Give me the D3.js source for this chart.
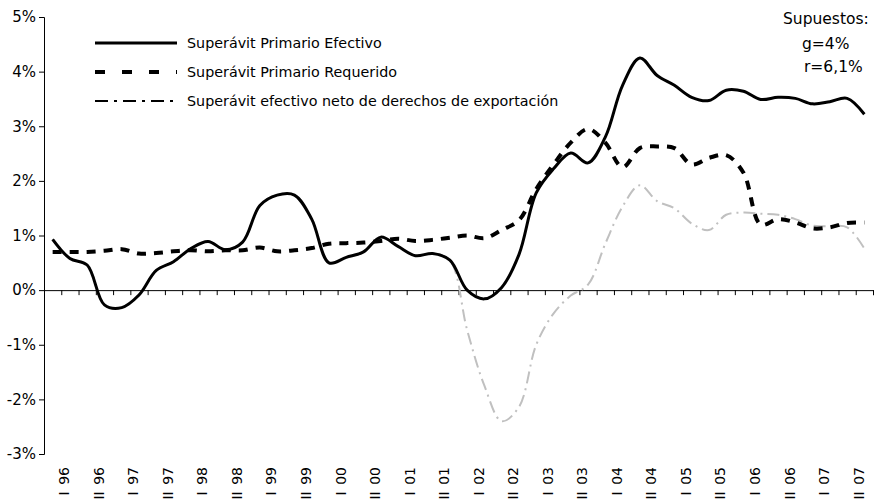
<!DOCTYPE html>
<html><head><meta charset="utf-8">
<script src="https://cdn.jsdelivr.net/npm/d3@7"></script>
<style>body{margin:0;background:#fff}svg{display:block}text{font-family:"DejaVu Sans",sans-serif;fill:#000}</style>
</head><body><svg id="c" width="878" height="503"></svg>
<script>
// Quarterly observations 1996 .. 2007 (48 points), labelled every second point
const years = ["96","97","98","99","00","01","02","03","04","05","06","07"];
const periodLabels = years.flatMap(y => ["I " + y, "II " + y]);
const efectivo = [0.93,0.58,0.46,-0.27,-0.32,-0.09,0.36,0.52,0.76,0.89,0.74,0.88,
  1.55,1.74,1.74,1.3,0.5,0.6,0.7,0.97,0.8,0.63,0.67,0.55,
  0.0,-0.16,0.05,0.65,1.78,2.22,2.51,2.33,2.8,3.75,4.25,3.93,
  3.75,3.53,3.47,3.66,3.64,3.49,3.53,3.51,3.41,3.45,3.51,3.22];
const requerido = [0.7,0.7,0.7,0.72,0.75,0.67,0.68,0.71,0.73,0.71,0.73,0.73,
  0.78,0.71,0.73,0.77,0.85,0.86,0.87,0.9,0.94,0.9,0.92,0.96,
  1.0,0.95,1.1,1.28,1.85,2.3,2.7,2.95,2.7,2.25,2.6,2.63,
  2.6,2.3,2.42,2.47,2.15,1.2,1.3,1.24,1.13,1.15,1.23,1.24];
const netoDerechos = [0.93,0.58,0.46,-0.27,-0.32,-0.09,0.36,0.52,0.76,0.89,0.74,0.88,
  1.55,1.74,1.74,1.3,0.5,0.6,0.7,0.97,0.8,0.63,0.67,0.55,
  -0.73,-1.75,-2.4,-2.14,-1.0,-0.43,-0.1,0.1,0.85,1.53,1.92,1.63,
  1.5,1.22,1.1,1.38,1.42,1.4,1.38,1.3,1.18,1.17,1.15,0.76];
const yTicks = [-3,-2,-1,0,1,2,3,4,5];
const legendNames = ["Superávit Primario Efectivo","Superávit Primario Requerido","Superávit efectivo neto de derechos de exportación"];
const notes = ["Supuestos:","g=4%","r=6,1%"];

const svg = d3.select("#c");
const xb = d3.scaleLinear().domain([0, 48]).range([44, 873]);
const y = d3.scaleLinear().domain([-3, 5]).range([454, 17]);
const xc = i => xb(i + 0.5);

// y axis
const ya = svg.append("g").attr("transform","translate(44,0)")
  .call(d3.axisLeft(y).tickValues(yTicks).tickFormat(d => d + "%").tickSizeOuter(0).tickSize(5));
ya.select(".domain").attr("stroke","#000");
ya.selectAll("line").attr("stroke","#000");
ya.selectAll("text").attr("font-size",15).attr("font-family","DejaVu Sans").attr("fill","#000");

// zero axis
const xa = svg.append("g").attr("transform",`translate(0,${y(0)})`)
  .call(d3.axisBottom(xb).tickValues(d3.range(1,49)).tickFormat("").tickSizeOuter(0).tickSize(5));
xa.select(".domain").attr("stroke","#000");
xa.selectAll("line").attr("stroke","#000");

// category labels
svg.append("g").selectAll("text").data(periodLabels).join("text")
  .attr("transform",(d,k)=>`translate(${xb(2*k+1)+3},467) rotate(-90)`)
  .attr("text-anchor","end").attr("dy","0.35em").attr("font-size",14)
  .attr("word-spacing",2).text(d=>d);

const line = d3.line().x((d,i)=>xc(i)).y(d=>y(d)).curve(d3.curveCatmullRom.alpha(0.5));
svg.append("path").datum(netoDerechos).attr("d",line).attr("fill","none")
  .attr("stroke","#c0c0c0").attr("stroke-width",2).attr("stroke-dasharray","12,5,2,5");
svg.append("path").datum(requerido).attr("d",line).attr("fill","none")
  .attr("stroke","#000").attr("stroke-width",4).attr("stroke-dasharray","9,8");
svg.append("path").datum(efectivo).attr("d",line).attr("fill","none")
  .attr("stroke","#000").attr("stroke-width",3);

// legend
const styles = [
  {stroke:"#000", w:3, dash:null},
  {stroke:"#000", w:4, dash:"10,17"},
  {stroke:"#000", w:2, dash:"13,6,3,6"}
];
const lg = svg.append("g");
legendNames.forEach((n,k)=>{
  const yy = 43 + k*29;
  lg.append("line").attr("x1",95).attr("x2",177).attr("y1",yy).attr("y2",yy)
    .attr("stroke",styles[k].stroke).attr("stroke-width",styles[k].w)
    .attr("stroke-dasharray",styles[k].dash);
  lg.append("text").attr("x",187).attr("y",yy).attr("dy","0.35em").attr("font-size",14.3).text(n);
});

// notes
const nx = [783, 802, 804];
const ny = [19, 44, 67];
notes.forEach((t,k)=>{
  svg.append("text").attr("x",nx[k]).attr("y",ny[k]).attr("dy","0.35em").attr("font-size",15.5).text(t);
});
</script></body></html>
